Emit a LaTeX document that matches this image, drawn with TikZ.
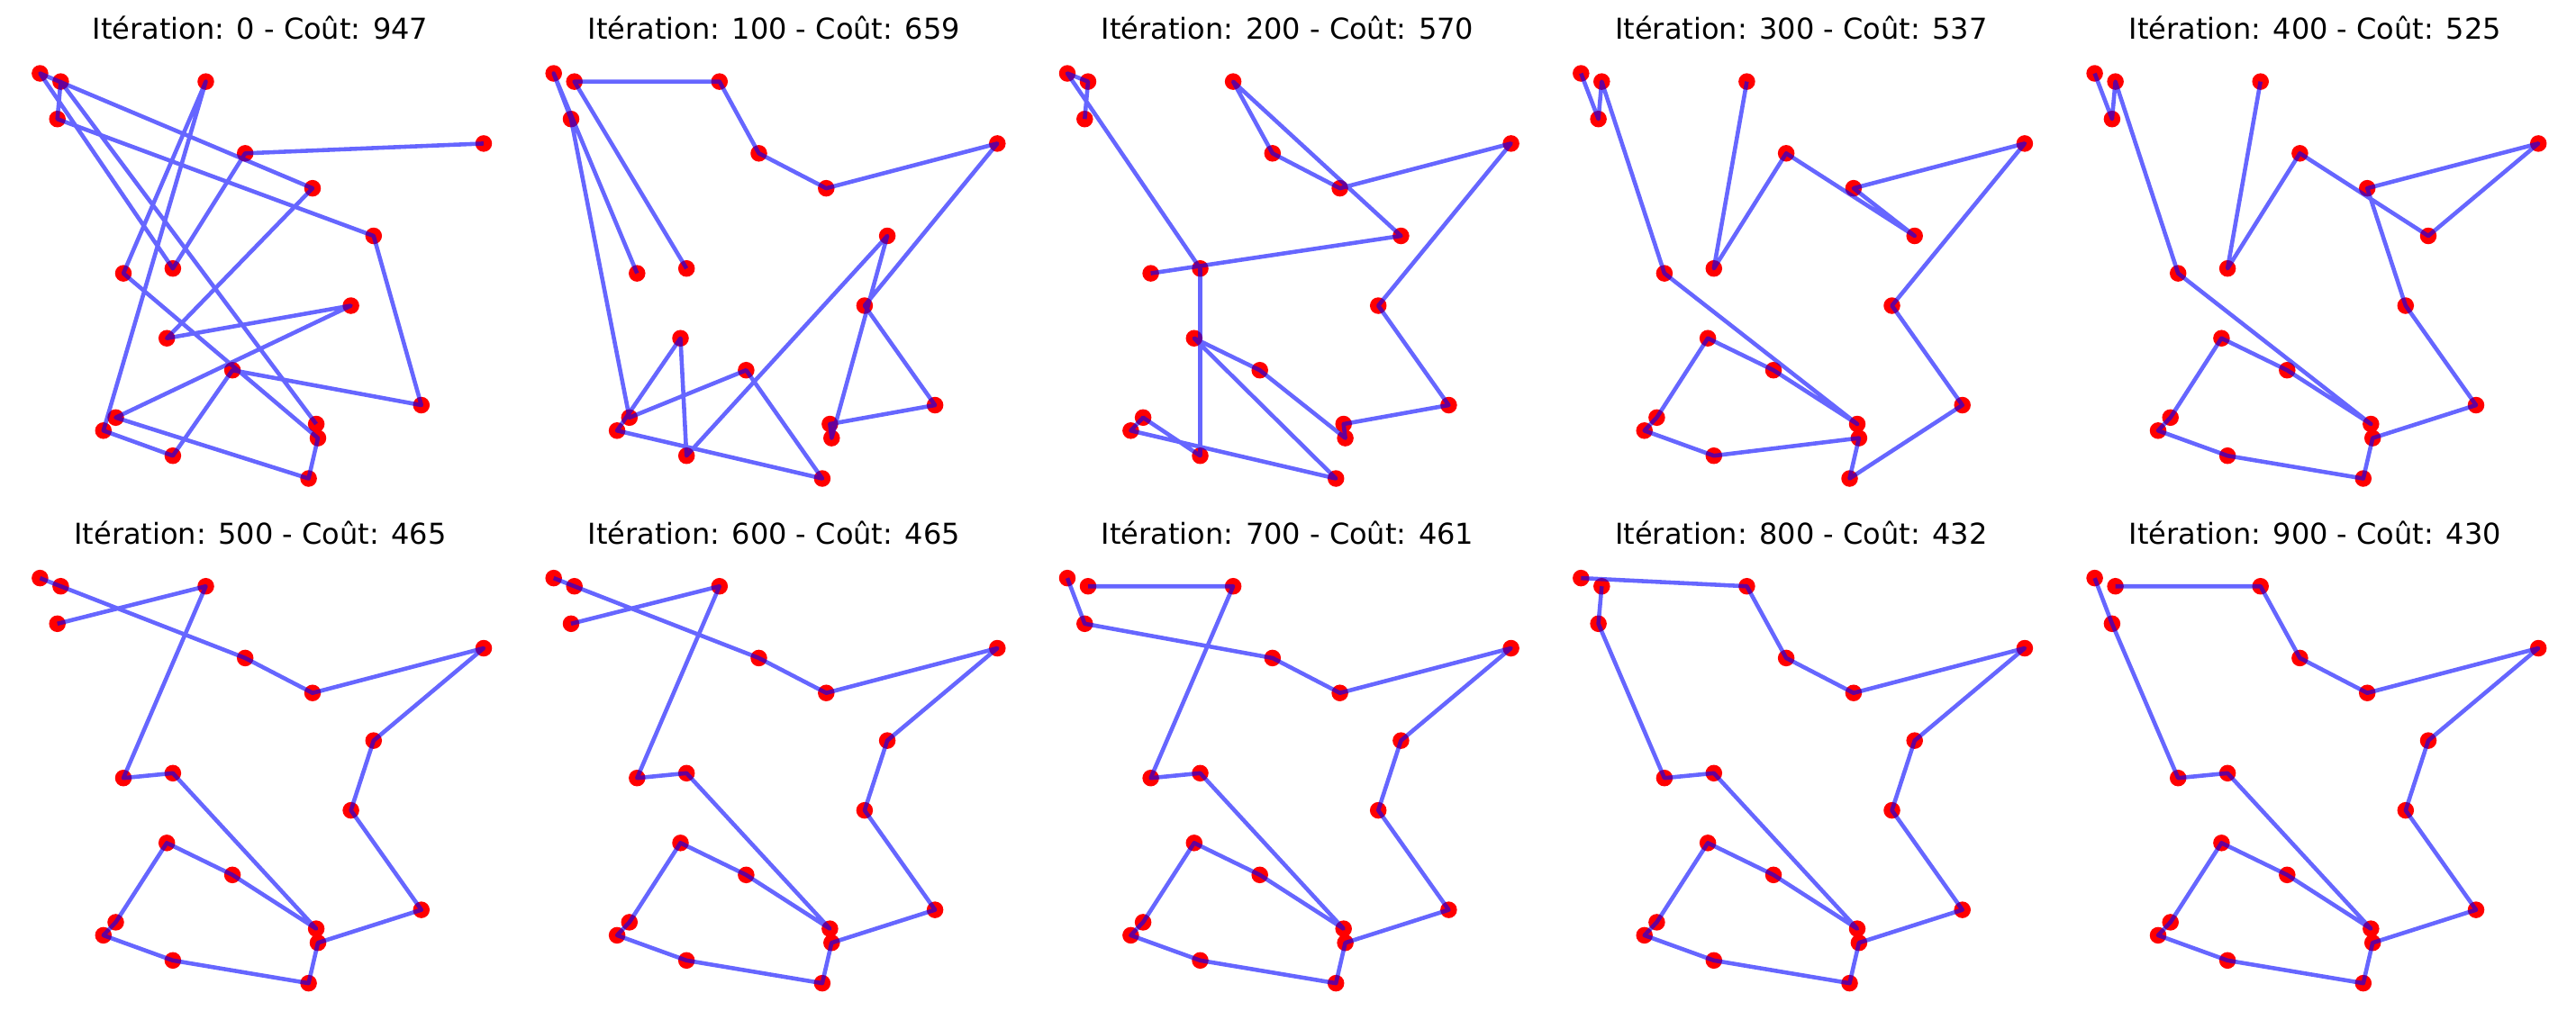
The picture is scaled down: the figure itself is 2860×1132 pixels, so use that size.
\documentclass[tikz,border=0pt]{standalone}
\usepackage{fontspec}
\setmainfont{DejaVu Sans}
\usepackage{tikz}

\newcommand{\cities}{A/44.4/81.5, B/67.4/90.6, C/228.5/90.6, D/63.7/132.2, E/272.2/170.3, F/537.0/159.4, G/347.0/209.1, H/414.8/262.0, I/137.0/303.6, J/191.9/298.2, K/389.6/339.5, L/185.2/375.7, M/258.1/411.2, N/467.8/450.0, O/128.5/463.8, P/114.8/478.3, Q/351.1/471.0, R/353.0/486.6, S/191.9/506.2, T/342.6/531.5}

\begin{document}
\begin{tikzpicture}[x=0.01cm, y=-0.01cm, city/.style = {circle, fill=red, inner sep=0pt, minimum size=1.85mm}, route/.style = {draw=blue, draw opacity=0.6, line width=1.3pt, line join=round}, titre/.style = {anchor=base, font=\fontsize{9.1}{11}\selectfont}]
\useasboundingbox (0,0) rectangle (2860,1132);
\foreach \k/\ox/\oy/\iter/\cout in {1/0/0/0/947, 2/570.3/0/100/659, 3/1140.6/0/200/570, 4/1710.9/0/300/537, 5/2281.2/0/400/525, 6/0/560.6/500/465, 7/570.3/560.6/600/465, 8/1140.6/560.6/700/461, 9/1710.9/560.6/800/432, 10/2281.2/560.6/900/430} {
  \node[titre] (t\k) at (\ox+289,\oy+43.5) {Itération: \iter{} - Coût: \cout};
  \foreach \c/\x/\y in \cities
    \node[city] (c\k-\c) at (\ox+\x,\oy+\y) {};
}
\draw[route] (c1-F.center) \foreach \c in {E,J,A,G,L,K,O,T,R,I,C,P,S,M,N,H,D,B,Q} {-- (c1-\c.center)};
\draw[route] (c2-J.center) \foreach \c in {B,C,E,G,F,K,N,Q,R,H,S,L,P,T,M,O,D,A,I} {-- (c2-\c.center)};
\draw[route] (c3-D.center) \foreach \c in {B,A,J,S,O,P,T,L,M,R,Q,N,K,F,G,E,C,H,I} {-- (c3-\c.center)};
\draw[route] (c4-C.center) \foreach \c in {J,E,H,G,F,K,N,T,R,S,P,O,L,M,Q,I,B,D,A} {-- (c4-\c.center)};
\draw[route] (c5-C.center) \foreach \c in {J,E,H,F,G,K,N,R,T,S,P,O,L,M,Q,I,B,D,A} {-- (c5-\c.center)};
\draw[route] (c6-D.center) \foreach \c in {C,I,J,Q,M,L,O,P,S,T,R,N,K,H,F,G,E,B,A} {-- (c6-\c.center)};
\draw[route] (c7-D.center) \foreach \c in {C,I,J,Q,M,L,O,P,S,T,R,N,K,H,F,G,E,B,A} {-- (c7-\c.center)};
\draw[route] (c8-A.center) \foreach \c in {D,E,G,F,H,K,N,R,T,S,P,O,L,M,Q,J,I,C,B} {-- (c8-\c.center)};
\draw[route] (c9-B.center) \foreach \c in {D,I,J,Q,M,L,O,P,S,T,R,N,K,H,F,G,E,C,A} {-- (c9-\c.center)};
\draw[route] (c10-A.center) \foreach \c in {D,I,J,Q,M,L,O,P,S,T,R,N,K,H,F,G,E,C,B} {-- (c10-\c.center)};
\end{tikzpicture}
\end{document}
